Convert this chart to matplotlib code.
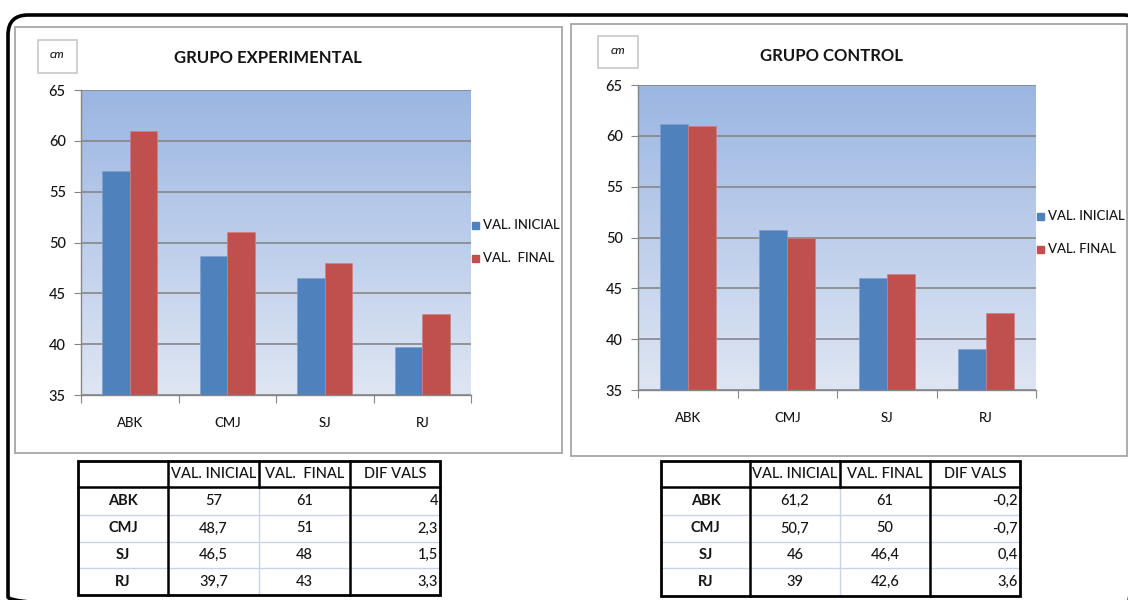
import numpy as np
import matplotlib.pyplot as plt
from matplotlib.patches import Rectangle, FancyBboxPatch
from matplotlib.colors import to_rgb

plt.rcParams['font.family'] = ['Lato', 'DejaVu Sans']
plt.rcParams['font.weight'] = 'medium'

# --- datos ---
cats = ['ABK', 'CMJ', 'SJ', 'RJ']
exp_ini = [57, 48.7, 46.5, 39.7]
exp_fin = [61, 51, 48, 43]
ctl_ini = [61.2, 50.7, 46, 39]
ctl_fin = [61, 50, 46.4, 42.6]
y_ticks = [35, 40, 45, 50, 55, 60, 65]

BLUE = '#4F81BD'
RED = '#C0504D'
GRID = '#868686'
TXT = '#141414'

W, H = 1128, 600
fig = plt.figure(figsize=(W / 100, H / 100), dpi=100)

# capa de fondo en pixeles (marcos, cajas, tablas)
bg = fig.add_axes([0, 0, 1, 1], zorder=0)
bg.set_xlim(0, W)
bg.set_ylim(H, 0)
bg.axis('off')


def px_axes(x0, y0, x1, y1):
    return fig.add_axes([x0 / W, 1 - y1 / H, (x1 - x0) / W, (y1 - y0) / H], zorder=2)


def fmt(v):
    return f"{round(v, 1):g}".replace('.', ',')


def draw_chart(ax, ini, fin):
    top = np.array(to_rgb('#9BB6E2'))
    bot = np.array(to_rgb('#DFE6F3'))
    t = np.linspace(0, 1, 256)[:, None]
    grad = (top * (1 - t) + bot * t)[:, None, :]
    ax.imshow(grad, extent=(-0.5, 3.5, 35, 65), aspect='auto', origin='upper', zorder=0)
    ax.set_facecolor('none')
    x = np.arange(len(cats))
    w = 0.28
    ax.bar(x - w / 2, ini, w, color=BLUE, edgecolor='#7FA0CF', linewidth=0.5, zorder=3)
    ax.bar(x + w / 2, fin, w, color=RED, edgecolor='#D27F7D', linewidth=0.5, zorder=3)
    ax.set_xlim(-0.5, 3.5)
    ax.set_ylim(35, 65)
    ax.set_yticks(y_ticks)
    ax.yaxis.grid(True, color=GRID, lw=1.2, zorder=1)
    ax.tick_params(axis='y', direction='out', length=5, color=GRID, labelsize=10.5,
                   labelcolor=TXT, pad=6)
    ax.set_xticks([-0.5, 0.5, 1.5, 2.5, 3.5])
    ax.set_xticklabels([])
    ax.tick_params(axis='x', which='major', direction='out', length=6, color=GRID)
    ax.set_xticks(x, minor=True)
    ax.set_xticklabels(cats, minor=True)
    ax.tick_params(axis='x', which='minor', length=0, labelsize=9.5, labelcolor=TXT, pad=16)
    for s in ['top', 'right']:
        ax.spines[s].set_visible(False)
    for s in ['left', 'bottom']:
        ax.spines[s].set_color(GRID)
        ax.spines[s].set_linewidth(1.0)
        ax.spines[s].set_zorder(4)


def draw_legend(x, y, labels, gap):
    for i, (lab, col) in enumerate(zip(labels, [BLUE, RED])):
        yy = y + i * gap
        bg.add_patch(Rectangle((x, yy - 3.5), 7, 7, color=col, zorder=3))
        bg.text(x + 11, yy, lab, fontsize=9.5, color=TXT, va='center', ha='left', zorder=3)


def draw_table(xs, ys, header, ini, fin):
    light = '#C9D3E8'
    ntab = len(ys) - 1
    # lineas interiores claras
    for y in ys[2:-1]:
        bg.plot([xs[0], xs[-1]], [y, y], color=light, lw=1, zorder=3)
    bg.plot([xs[2], xs[2]], [ys[1], ys[-1]], color=light, lw=1, zorder=3)
    # lineas negras
    bg.plot([xs[0], xs[-1]], [ys[1], ys[1]], color='black', lw=1.8, zorder=4)
    bg.plot([xs[2], xs[2]], [ys[0], ys[1]], color='black', lw=1.8, zorder=4)
    for xi in (xs[1], xs[3]):
        bg.plot([xi, xi], [ys[0], ys[-1]], color='black', lw=1.8, zorder=4)
    bg.add_patch(Rectangle((xs[0], ys[0]), xs[-1] - xs[0], ys[-1] - ys[0],
                           fill=False, ec='black', lw=2.0, zorder=4))
    # encabezados
    ym = (ys[0] + ys[1]) / 2
    for j, h in enumerate(header):
        bg.text((xs[j + 1] + xs[j + 2]) / 2, ym, h, fontsize=10.5, color=TXT,
                ha='center', va='center', zorder=5)
    for i in range(ntab - 1):
        ym = (ys[i + 1] + ys[i + 2]) / 2
        bg.text((xs[0] + xs[1]) / 2, ym, cats[i], fontsize=10.5, fontweight='bold',
                color=TXT, ha='center', va='center', zorder=5)
        bg.text((xs[1] + xs[2]) / 2, ym, fmt(ini[i]), fontsize=10.5, color=TXT,
                ha='center', va='center', zorder=5)
        bg.text((xs[2] + xs[3]) / 2, ym, fmt(fin[i]), fontsize=10.5, color=TXT,
                ha='center', va='center', zorder=5)
        bg.text(xs[4] - 2, ym, fmt(fin[i] - ini[i]), fontsize=10.5, color=TXT,
                ha='right', va='center', zorder=5)


# marco exterior redondeado (sigue fuera de la imagen por abajo y a la derecha)
bg.add_patch(FancyBboxPatch((8, 15), 1135, 602, boxstyle='round,pad=0,rounding_size=20',
                            fill=False, ec='black', lw=2.6, zorder=1))

# cajas de los graficos
for (x0, y0, x1, y1) in [(15, 27, 562, 453), (571, 24, 1127, 456)]:
    bg.add_patch(Rectangle((x0, y0), x1 - x0, y1 - y0, fc='white', ec='#A6A6A6', lw=1.3, zorder=2))

# etiqueta de unidades
for (x0, y0, x1, y1) in [(38, 40, 77, 73), (598, 36, 638, 68)]:
    bg.add_patch(Rectangle((x0, y0), x1 - x0, y1 - y0, fc='white', ec='#C8C8C8', lw=1.2, zorder=3))
    bg.text((x0 + x1) / 2, (y0 + y1) / 2 - 2, 'cm', fontsize=8.5, style='italic',
            color=TXT, ha='center', va='center', zorder=4)

bg.text(268, 58, 'GRUPO EXPERIMENTAL', fontsize=12, fontweight='bold', color=TXT,
        ha='center', va='center', zorder=4)
bg.text(832, 56, 'GRUPO CONTROL', fontsize=12, fontweight='bold', color=TXT,
        ha='center', va='center', zorder=4)

ax1 = px_axes(81, 90, 471, 395)
draw_chart(ax1, exp_ini, exp_fin)
ax2 = px_axes(638, 85, 1036, 390)
draw_chart(ax2, ctl_ini, ctl_fin)

draw_legend(472, 225, ['VAL. INICIAL', 'VAL.  FINAL'], 33)
draw_legend(1037, 216, ['VAL. INICIAL', 'VAL. FINAL'], 33)

draw_table([78, 168, 259, 350, 440], [461, 487, 515, 542, 568, 595],
           ['VAL. INICIAL', 'VAL.  FINAL', 'DIF VALS'], exp_ini, exp_fin)
draw_table([661, 750, 840, 930, 1020], [461, 487, 515, 542, 568, 596],
           ['VAL. INICIAL', 'VAL. FINAL', 'DIF VALS'], ctl_ini, ctl_fin)

fig.savefig('out.png', dpi=100)
